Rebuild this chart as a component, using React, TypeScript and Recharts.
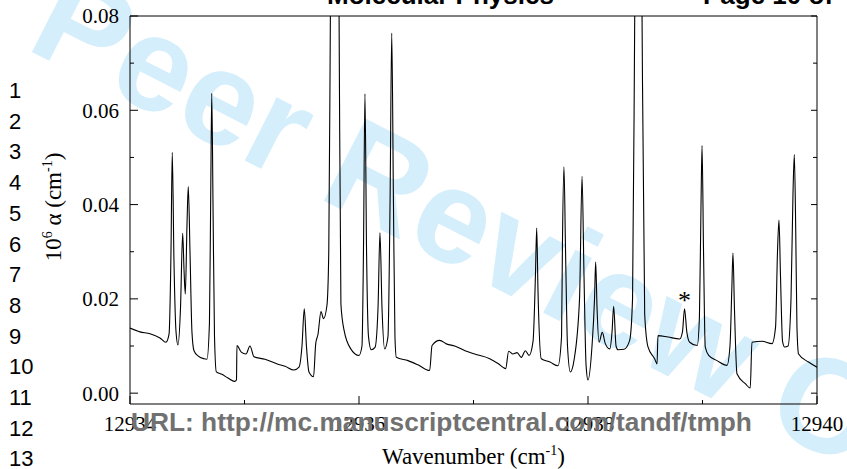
import React from 'react';
import { LineChart, Line, XAxis, YAxis, ReferenceDot, Label } from 'recharts';

// wavenumber (cm-1) and absorption 10^6 alpha (cm-1)
const wavenumber = [
  12934.000, 12934.087, 12934.175, 12934.262, 12934.314, 12934.341, 12934.358, 12934.369, 12934.384, 12934.402,
  12934.419, 12934.441, 12934.460, 12934.472, 12934.483, 12934.498, 12934.509, 12934.524, 12934.541, 12934.559,
  12934.594, 12934.646, 12934.672, 12934.694, 12934.706, 12934.714, 12934.725, 12934.738, 12934.754, 12934.803,
  12934.856, 12934.914, 12934.930, 12934.934, 12934.972, 12935.013, 12935.048, 12935.083, 12935.179, 12935.286,
  12935.354, 12935.432, 12935.476, 12935.502, 12935.522, 12935.541, 12935.563, 12935.603, 12935.622, 12935.642,
  12935.668, 12935.690, 12935.720, 12935.736, 12935.750, 12935.766, 12935.788, 12935.810, 12935.826, 12935.842,
  12935.870, 12935.928, 12936.000, 12936.026, 12936.039, 12936.052, 12936.066, 12936.083, 12936.107, 12936.140,
  12936.166, 12936.183, 12936.201, 12936.224, 12936.253, 12936.271, 12936.286, 12936.301, 12936.314, 12936.326,
  12936.428, 12936.515, 12936.617, 12936.638, 12936.704, 12936.768, 12936.836, 12936.926, 12937.011, 12937.142,
  12937.214, 12937.281, 12937.307, 12937.345, 12937.380, 12937.418, 12937.453, 12937.485, 12937.520, 12937.541,
  12937.552, 12937.563, 12937.592, 12937.668, 12937.738, 12937.769, 12937.777, 12937.790, 12937.804, 12937.821,
  12937.846, 12937.878, 12937.926, 12937.948, 12937.965, 12937.983, 12938.000, 12938.035, 12938.057, 12938.067,
  12938.079, 12938.096, 12938.125, 12938.151, 12938.190, 12938.210, 12938.224, 12938.245, 12938.262, 12938.314,
  12938.364, 12938.389, 12938.408, 12938.424, 12938.439, 12938.457, 12938.472, 12938.495, 12938.524, 12938.582,
  12938.603, 12938.611, 12938.699, 12938.801, 12938.825, 12938.843, 12938.863, 12938.888, 12938.954, 12938.973,
  12938.987, 12938.996, 12939.009, 12939.024, 12939.054, 12939.127, 12939.214, 12939.240, 12939.256, 12939.266,
  12939.279, 12939.301, 12939.374, 12939.417, 12939.432, 12939.520, 12939.607, 12939.638, 12939.655, 12939.668,
  12939.681, 12939.699, 12939.718, 12939.747, 12939.773, 12939.790, 12939.802, 12939.814, 12939.825, 12939.839,
  12939.926, 12940.000,
];

const alpha = [
  0.0138, 0.0130, 0.0126, 0.0117, 0.0108, 0.0125, 0.0300, 0.0511, 0.0280, 0.0130,
  0.0102, 0.0180, 0.0339, 0.0260, 0.0210, 0.0360, 0.0438, 0.0300, 0.0130, 0.0090,
  0.0079, 0.0073, 0.0072, 0.0150, 0.0450, 0.0636, 0.0400, 0.0120, 0.0045, 0.0040,
  0.0032, 0.0025, 0.0028, 0.0101, 0.0087, 0.0083, 0.0100, 0.0077, 0.0072, 0.0062,
  0.0057, 0.0049, 0.0055, 0.0100, 0.0179, 0.0100, 0.0045, 0.0035, 0.0105, 0.0125,
  0.0173, 0.0158, 0.0186, 0.0300, 0.0800, 0.1400, 0.1600, 0.1400, 0.0800, 0.0189,
  0.0133, 0.0094, 0.0080, 0.0100, 0.0300, 0.0635, 0.0300, 0.0120, 0.0092, 0.0097,
  0.0180, 0.0340, 0.0180, 0.0094, 0.0120, 0.0400, 0.0764, 0.0400, 0.0120, 0.0076,
  0.0069, 0.0060, 0.0048, 0.0101, 0.0112, 0.0104, 0.0100, 0.0090, 0.0083, 0.0073,
  0.0063, 0.0052, 0.0089, 0.0083, 0.0086, 0.0076, 0.0090, 0.0080, 0.0110, 0.0250,
  0.0350, 0.0220, 0.0073, 0.0066, 0.0058, 0.0120, 0.0320, 0.0480, 0.0300, 0.0100,
  0.0045, 0.0070, 0.0200, 0.0460, 0.0250, 0.0060, 0.0028, 0.0100, 0.0200, 0.0278,
  0.0180, 0.0108, 0.0129, 0.0105, 0.0094, 0.0130, 0.0184, 0.0100, 0.0092, 0.0093,
  0.0112, 0.0200, 0.0800, 0.1400, 0.1600, 0.1400, 0.0800, 0.0168, 0.0098, 0.0073,
  0.0062, 0.0122, 0.0119, 0.0115, 0.0130, 0.0179, 0.0130, 0.0108, 0.0101, 0.0160,
  0.0400, 0.0525, 0.0300, 0.0098, 0.0080, 0.0069, 0.0059, 0.0100, 0.0220, 0.0297,
  0.0180, 0.0041, 0.0020, 0.0011, 0.0108, 0.0110, 0.0105, 0.0140, 0.0300, 0.0367,
  0.0250, 0.0110, 0.0098, 0.0100, 0.0200, 0.0420, 0.0506, 0.0350, 0.0140, 0.0083,
  0.0066, 0.0055,
];

const xTicks = [12934, 12935, 12936, 12937, 12938, 12939, 12940];
const yTicks = [0, 0.01, 0.02, 0.03, 0.04, 0.05, 0.06, 0.07, 0.08];
const lineNumbers = [1, 2, 3, 4, 5, 6, 7, 8, 9, 10, 11, 12, 13];

const data = wavenumber.map((x, i) => ({ x, a: alpha[i] }));

const SERIF = '"Liberation Serif", "Times New Roman", serif';
const SANS = '"Liberation Sans", Arial, sans-serif';

const isMajorY = (v: number) => Math.round(v * 100) % 2 === 0;
const isMajorX = (v: number) => Math.round(v) % 2 === 0;

const LeftTick = ({ x, y, payload }: any) => {
  const major = isMajorY(payload.value);
  return (
    <g>
      <line x1={x} x2={x + (major ? 8 : 4)} y1={y} y2={y} stroke="#000" />
      {major && (
        <text x={x - 11} y={y} dy="0.35em" textAnchor="end" fontFamily={SERIF} fontSize={21} fill="#000">
          {payload.value.toFixed(2)}
        </text>
      )}
    </g>
  );
};

const RightTick = ({ x, y, payload }: any) => {
  const major = isMajorY(payload.value);
  return <line x1={x} x2={x - (major ? 6 : 4)} y1={y} y2={y} stroke="#000" />;
};

const BottomTick = ({ x, y, payload }: any) => {
  const major = isMajorX(payload.value);
  return (
    <g>
      <line x1={x} x2={x} y1={y} y2={y - (major ? 8 : 4)} stroke="#000" />
      {major && (
        <text x={x} y={y + 27} textAnchor="middle" fontFamily={SERIF} fontSize={21} fill="#000">
          {payload.value}
        </text>
      )}
    </g>
  );
};

const TopTick = ({ x, y, payload }: any) => {
  const major = isMajorX(payload.value);
  return <line x1={x} x2={x} y1={y} y2={y + (major ? 6 : 4)} stroke="#000" />;
};

const XTitle = ({ viewBox }: any) => (
  <text x={viewBox.x + viewBox.width / 2} y={464} textAnchor="middle" fontFamily={SERIF} fontSize={23} fill="#000">
    Wavenumber (cm
    <tspan dy={-9} fontSize={14}>-1</tspan>
    <tspan dy={9}>)</tspan>
  </text>
);

const YTitle = () => (
  <text x={61} y={207} transform="rotate(-90 61 207)" textAnchor="middle" fontFamily={SERIF} fontSize={23} fill="#000">
    10
    <tspan dy={-9} fontSize={14}>6</tspan>
    <tspan dy={9}> α (cm</tspan>
    <tspan dy={-9} fontSize={14}>-1</tspan>
    <tspan dy={9}>)</tspan>
  </text>
);

export default function App() {
  return (
    <div style={{ position: 'absolute', left: 0, top: 0, width: 847, height: 469, background: '#fff', overflow: 'hidden' }}>
      <svg width={847} height={469} style={{ position: 'absolute', left: 0, top: 0 }}>
        <text
          x={24}
          y={48}
          transform="rotate(27 24 48)"
          fontFamily={SANS}
          fontWeight="bold"
          fontSize={134}
          fill="#d4eefb"
        >
          Peer Review Only
        </text>
      </svg>
      <div style={{ position: 'absolute', left: 0, top: 0 }}>
        <LineChart width={847} height={469} data={data} margin={{ top: 15, right: 29, bottom: 35, left: 70 }}>
          <XAxis
            dataKey="x"
            type="number"
            domain={[12934, 12940]}
            ticks={xTicks}
            interval={0}
            allowDataOverflow
            height={30}
            tickSize={0}
            tickMargin={0}
            tick={BottomTick}
            axisLine={{ stroke: '#000' }}
          >
            <Label content={XTitle} />
          </XAxis>
          <XAxis
            xAxisId="top"
            orientation="top"
            type="number"
            domain={[12934, 12940]}
            ticks={xTicks}
            interval={0}
            allowDataOverflow
            height={1}
            tickSize={0}
            tickMargin={0}
            tick={TopTick}
            axisLine={{ stroke: '#000' }}
          />
          <YAxis
            type="number"
            domain={[-0.0023, 0.08]}
            ticks={yTicks}
            interval={0}
            allowDataOverflow
            width={60}
            tickSize={0}
            tickMargin={0}
            tick={LeftTick}
            axisLine={{ stroke: '#000' }}
          >
            <Label content={YTitle} />
          </YAxis>
          <YAxis
            yAxisId="right"
            orientation="right"
            type="number"
            domain={[-0.0023, 0.08]}
            ticks={yTicks}
            interval={0}
            allowDataOverflow
            width={1}
            tickSize={0}
            tickMargin={0}
            tick={RightTick}
            axisLine={{ stroke: '#000' }}
          />
          <Line
            type="monotoneX"
            dataKey="a"
            stroke="#000"
            strokeWidth={1.1}
            dot={false}
            isAnimationActive={false}
          />
          <ReferenceDot
            x={12938.843}
            y={0.0179}
            r={0}
            fill="none"
            stroke="none"
            label={{ value: '*', position: 'top', offset: 0, fontSize: 26, fill: '#000', fontFamily: SERIF }}
          />
        </LineChart>
      </div>
      <svg width={847} height={469} style={{ position: 'absolute', left: 0, top: 0, pointerEvents: 'none' }}>
        {lineNumbers.map((n, i) => (
          <text key={n} x={9} y={98 + i * 30.7} fontFamily={SANS} fontSize={22} fill="#000">
            {n}
          </text>
        ))}
        <text x={327} y={4} fontFamily={SANS} fontWeight="bold" fontSize={26} fill="#000">
          Molecular Physics
        </text>
        <text x={703} y={4} fontFamily={SANS} fontWeight="bold" fontSize={26} fill="#000">
          Page 10 of
        </text>
        <text x={131} y={431} fontFamily={SANS} fontWeight="bold" fontSize={26.3} fill="#717171">
          URL: http://mc.manuscriptcentral.com/tandf/tmph
        </text>
      </svg>
    </div>
  );
}
